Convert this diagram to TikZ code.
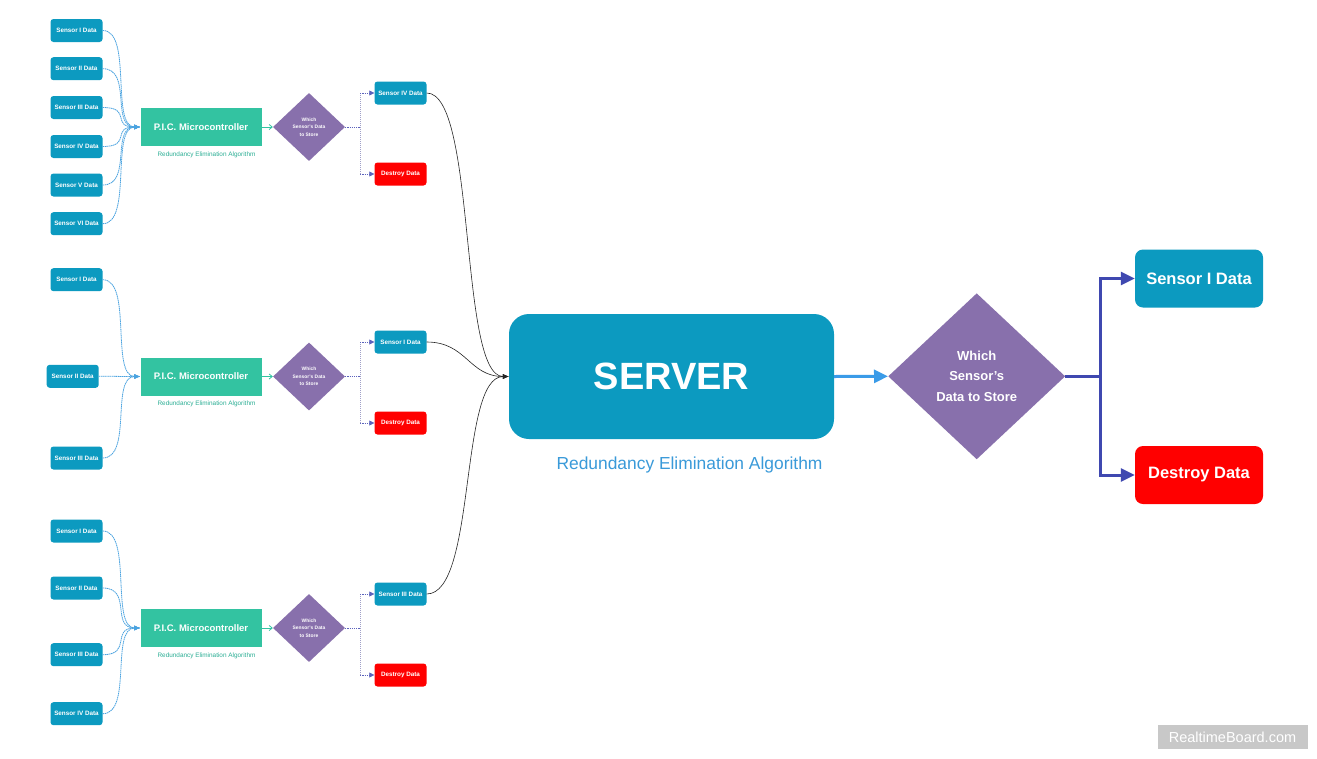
\documentclass[tikz,border=0pt]{standalone}
\usepackage{fontspec}
\setmainfont{Liberation Sans}
\usetikzlibrary{shapes.geometric,arrows.meta}
\definecolor{sblue}{HTML}{0C9AC0}
\definecolor{pgreen}{HTML}{33C3A1}
\definecolor{dpurple}{HTML}{8870AC}
\definecolor{dred}{HTML}{FF0000}
\definecolor{abblue}{HTML}{3A9BE8}
\definecolor{elblue}{HTML}{3F48B0}
\definecolor{lblue}{HTML}{3A9AD9}
\definecolor{lteal}{HTML}{2AAE94}
\definecolor{inblue}{HTML}{4AA3E0}
\definecolor{wmgray}{HTML}{C8C8C8}
\definecolor{vgray}{HTML}{A0A0C8}
\begin{document}
\begin{tikzpicture}[x=1pt,y=-1pt,
  sensor/.style={rounded corners=3pt, fill=sblue, text=white, font=\bfseries\fontsize{6.3}{7}\selectfont, minimum width=52pt, minimum height=23pt, inner sep=0pt},
  destroy/.style={sensor, fill=dred},
  pic/.style={fill=pgreen, text=white, font=\bfseries\fontsize{9.5}{11}\selectfont, minimum width=121pt, minimum height=38pt, inner sep=0pt},
  piclabel/.style={text=lteal, font=\fontsize{6.4}{7}\selectfont, inner sep=0pt},
  dsmall/.style={diamond, fill=dpurple, text=white, font=\bfseries\fontsize{4.9}{7.7}\selectfont, align=center, minimum width=72pt, minimum height=68pt, inner sep=0pt},
  dbig/.style={diamond, fill=dpurple, text=white, font=\bfseries\fontsize{13}{20.8}\selectfont, align=center, minimum width=177pt, minimum height=166pt, inner sep=0pt},
  server/.style={rounded corners=20pt, fill=sblue, text=white, font=\bfseries\fontsize{38}{40}\selectfont, minimum width=325pt, minimum height=125pt, inner sep=0pt},
  bigbox/.style={rounded corners=8pt, fill=sblue, text=white, font=\bfseries\fontsize{16.5}{18}\selectfont, minimum width=128pt, minimum height=58pt, inner sep=0pt},
  bigdestroy/.style={bigbox, fill=dred},
  incurve/.style={inblue, line width=0.8pt, dash pattern=on 1.5pt off 0.6pt, -{Latex[length=6pt,width=5pt]}},
  tealarrow/.style={pgreen, line width=0.8pt, -{Straight Barb[length=3pt,width=5pt]}},
  dqh/.style={elblue!85, line width=0.7pt, dash pattern=on 1.2pt off 1pt},
  dqv/.style={vgray, line width=0.7pt, dash pattern=on 1pt off 1pt},
  dq/.style={dqh, -{Triangle[length=5pt,width=5pt]}},
  blk/.style={black!85, line width=0.6pt, -{Latex[length=6pt,width=5pt]}},
  bigarrow/.style={abblue, line width=3pt, -{Triangle[length=14pt,width=13pt]}},
  bigel/.style={elblue, line width=3pt, -{Triangle[length=14pt,width=13pt]}}
]
\useasboundingbox[fill=white] (0,0) rectangle (1317,758);

% ---------- Group 1 ----------
\node[sensor] (g1s1) at (76.5,30.5) {Sensor I Data};
\node[sensor] (g1s2) at (76.5,68.7) {Sensor II Data};
\node[sensor] (g1s3) at (76.5,107.5) {Sensor III Data};
\node[sensor] (g1s4) at (76.5,146.5) {Sensor IV Data};
\node[sensor] (g1s5) at (76.5,185) {Sensor V Data};
\node[sensor] (g1s6) at (76.5,223.7) {Sensor VI Data};
\node[pic] (p1) at (201,127) {P.I.C. Microcontroller};
\node[piclabel] (l1) at (206.5,155) {Redundancy Elimination Algorithm};
\node[dsmall] (d1) at (309,127) {Which\\Sensor's Data\\to Store};
\node[sensor] (r1) at (400.5,93) {Sensor IV Data};
\node[destroy] (x1) at (400.5,174) {Destroy Data};

% ---------- Group 2 ----------
\node[sensor] (g2s1) at (76.5,279.7) {Sensor I Data};
\node[sensor] (g2s2) at (72.7,376.3) {Sensor II Data};
\node[sensor] (g2s3) at (76.5,458) {Sensor III Data};
\node[pic] (p2) at (201,376.5) {P.I.C. Microcontroller};
\node[piclabel] (l2) at (206.5,404) {Redundancy Elimination Algorithm};
\node[dsmall] (d2) at (309,376.5) {Which\\Sensor's Data\\to Store};
\node[sensor] (r2) at (400.5,342) {Sensor I Data};
\node[destroy] (x2) at (400.5,423) {Destroy Data};

% ---------- Group 3 ----------
\node[sensor] (g3s1) at (76.5,531) {Sensor I Data};
\node[sensor] (g3s2) at (76.5,588) {Sensor II Data};
\node[sensor] (g3s3) at (76.5,654.7) {Sensor III Data};
\node[sensor] (g3s4) at (76.5,713.7) {Sensor IV Data};
\node[pic] (p3) at (201,628) {P.I.C. Microcontroller};
\node[piclabel] (l3) at (206.5,656) {Redundancy Elimination Algorithm};
\node[dsmall] (d3) at (309,628) {Which\\Sensor's Data\\to Store};
\node[sensor] (r3) at (400.5,594) {Sensor III Data};
\node[destroy] (x3) at (400.5,675) {Destroy Data};

% ---------- Server side ----------
\node[server] (srv) at (671.5,376.5) {SERVER};
\node[text=lblue, font=\fontsize{17.4}{19}\selectfont, inner sep=0pt] (slab) at (689.5,465) {Redundancy Elimination Algorithm};
\node[dbig] (bd) at (976.7,376.3) {Which\\Sensor's\\Data to Store};
\node[bigbox] (bs) at (1199,278.5) {Sensor I Data};
\node[bigdestroy] (bx) at (1199,475) {Destroy Data};

% watermark
\node[fill=wmgray, text=white, font=\fontsize{14.5}{16}\selectfont, minimum width=150pt, minimum height=24pt, inner sep=0pt] (wm) at (1232.5,737) {RealtimeBoard.com};

% ---------- Connectors ----------
\foreach \s in {g1s1,g1s2,g1s3,g1s4,g1s5,g1s6}
  \draw[incurve] (\s.east) .. controls +(30,0) and +(-30,0) .. (p1.west);
\foreach \s in {g2s1,g2s2,g2s3}
  \draw[incurve] (\s.east) .. controls +(30,0) and +(-30,0) .. (p2.west);
\foreach \s in {g3s1,g3s2,g3s3,g3s4}
  \draw[incurve] (\s.east) .. controls +(30,0) and +(-30,0) .. (p3.west);

\draw[tealarrow] (p1.east) -- (d1.west);
\draw[tealarrow] (p2.east) -- (d2.west);
\draw[tealarrow] (p3.east) -- (d3.west);

% decision splits (dark horizontals, light vertical)
\draw[dqh] (d1.east) -- ++(15,0) coordinate (j1);
\draw[dqv] (j1 |- r1.west) -- (j1 |- x1.west);
\draw[dq] (j1 |- r1.west) -- (r1.west);
\draw[dq] (j1 |- x1.west) -- (x1.west);

\draw[dqh] (d2.east) -- ++(15,0) coordinate (j2);
\draw[dqv] (j2 |- r2.west) -- (j2 |- x2.west);
\draw[dq] (j2 |- r2.west) -- (r2.west);
\draw[dq] (j2 |- x2.west) -- (x2.west);

\draw[dqh] (d3.east) -- ++(15,0) coordinate (j3);
\draw[dqv] (j3 |- r3.west) -- (j3 |- x3.west);
\draw[dq] (j3 |- r3.west) -- (r3.west);
\draw[dq] (j3 |- x3.west) -- (x3.west);

\draw[blk] (r1.east) .. controls +(50,0) and +(-50,0) .. (srv.west);
\draw[blk] (r2.east) .. controls +(40,0) and +(-40,0) .. (srv.west);
\draw[blk] (r3.east) .. controls +(50,0) and +(-50,0) .. (srv.west);

\draw[bigarrow] (srv.east) -- (bd.west);
\draw[bigel] (bd.east) -- ++(35,0) |- (bs.west);
\draw[bigel] (bd.east) -- ++(35,0) |- (bx.west);
\end{tikzpicture}
\end{document}
